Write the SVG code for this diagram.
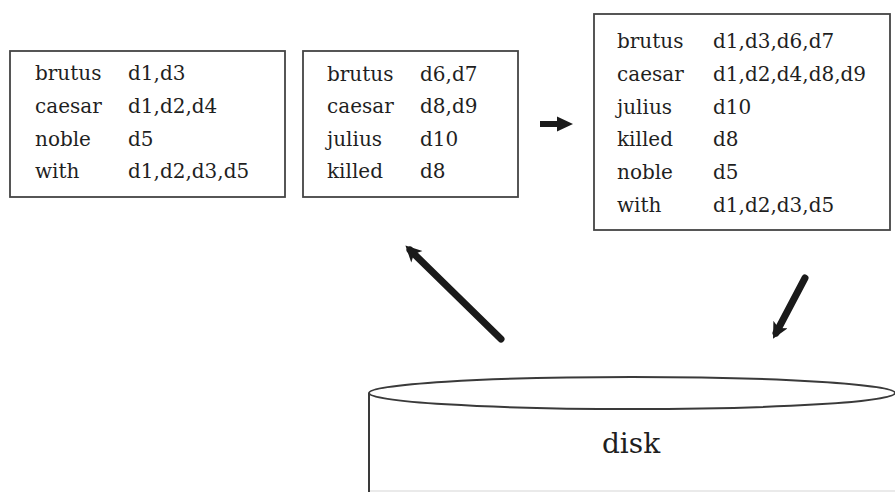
<svg xmlns="http://www.w3.org/2000/svg" width="895" height="492" viewBox="0 0 895 492">
  <style>
    .box { fill: #ffffff; stroke: #444444; stroke-width: 1.8; }
    .t { font-family: "DejaVu Serif", "Liberation Serif", serif; font-size: 20px; fill: #1f1f1f; }
    .disk { fill: #ffffff; stroke: #3a3a3a; stroke-width: 2; }
    .lbl { font-family: "DejaVu Serif", "Liberation Serif", serif; font-size: 28px; fill: #1f1f1f; text-anchor: middle; }
    .arrow { stroke: #1a1a1a; stroke-width: 7; stroke-linecap: round; fill: none; }
  </style>
  <defs>
    <marker id="head" viewBox="0 0 10 10" refX="6" refY="5" markerWidth="17" markerHeight="16" markerUnits="userSpaceOnUse" orient="auto">
      <path d="M0,0 L10,5 L0,10 L2.5,5 Z" fill="#1a1a1a"/>
    </marker>
  </defs>
  <rect width="895" height="492" fill="#ffffff"/>

  <!-- in-memory index block 1 -->
  <g id="block1">
    <rect class="box" x="10" y="51" width="275" height="146"/>
    <text class="t" x="35" y="80">brutus</text><text class="t" x="128" y="80">d1,d3</text>
    <text class="t" x="35" y="113">caesar</text><text class="t" x="128" y="113">d1,d2,d4</text>
    <text class="t" x="35" y="145.5">noble</text><text class="t" x="128" y="145.5">d5</text>
    <text class="t" x="35" y="178">with</text><text class="t" x="128" y="178">d1,d2,d3,d5</text>
  </g>

  <!-- in-memory index block 2 -->
  <g id="block2">
    <rect class="box" x="303" y="51" width="215" height="146"/>
    <text class="t" x="327" y="80.5">brutus</text><text class="t" x="420" y="80.5">d6,d7</text>
    <text class="t" x="327" y="113">caesar</text><text class="t" x="420" y="113">d8,d9</text>
    <text class="t" x="327" y="145.5">julius</text><text class="t" x="420" y="145.5">d10</text>
    <text class="t" x="327" y="178">killed</text><text class="t" x="420" y="178">d8</text>
  </g>

  <!-- merged index -->
  <g id="merged">
    <rect class="box" x="594" y="14" width="296" height="216"/>
    <text class="t" x="617" y="48">brutus</text><text class="t" x="713" y="48">d1,d3,d6,d7</text>
    <text class="t" x="617" y="80.8">caesar</text><text class="t" x="713" y="80.8">d1,d2,d4,d8,d9</text>
    <text class="t" x="617" y="113.6">julius</text><text class="t" x="713" y="113.6">d10</text>
    <text class="t" x="617" y="146.4">killed</text><text class="t" x="713" y="146.4">d8</text>
    <text class="t" x="617" y="179.2">noble</text><text class="t" x="713" y="179.2">d5</text>
    <text class="t" x="617" y="212">with</text><text class="t" x="713" y="212">d1,d2,d3,d5</text>
  </g>

  <!-- disk cylinder -->
  <g id="disk">
    <line x1="370" y1="491" x2="895" y2="491" stroke="#d6d6d6" stroke-width="1.2"/>
    <line x1="369" y1="393" x2="369" y2="492" stroke="#3a3a3a" stroke-width="2"/>
    <ellipse class="disk" cx="632" cy="393" rx="263" ry="16"/>
    <text class="lbl" x="631" y="453">disk</text>
  </g>

  <!-- connectors -->
  <g id="connectors">
    <path d="M540,121 L557,121 L557,116.5 L573,124 L557,131.5 L557,127 L540,127 Z" fill="#1a1a1a"/>
    <line class="arrow" x1="501" y1="339" x2="410" y2="250" marker-end="url(#head)"/>
    <line class="arrow" x1="805" y1="278" x2="776" y2="333" marker-end="url(#head)"/>
  </g>
</svg>
